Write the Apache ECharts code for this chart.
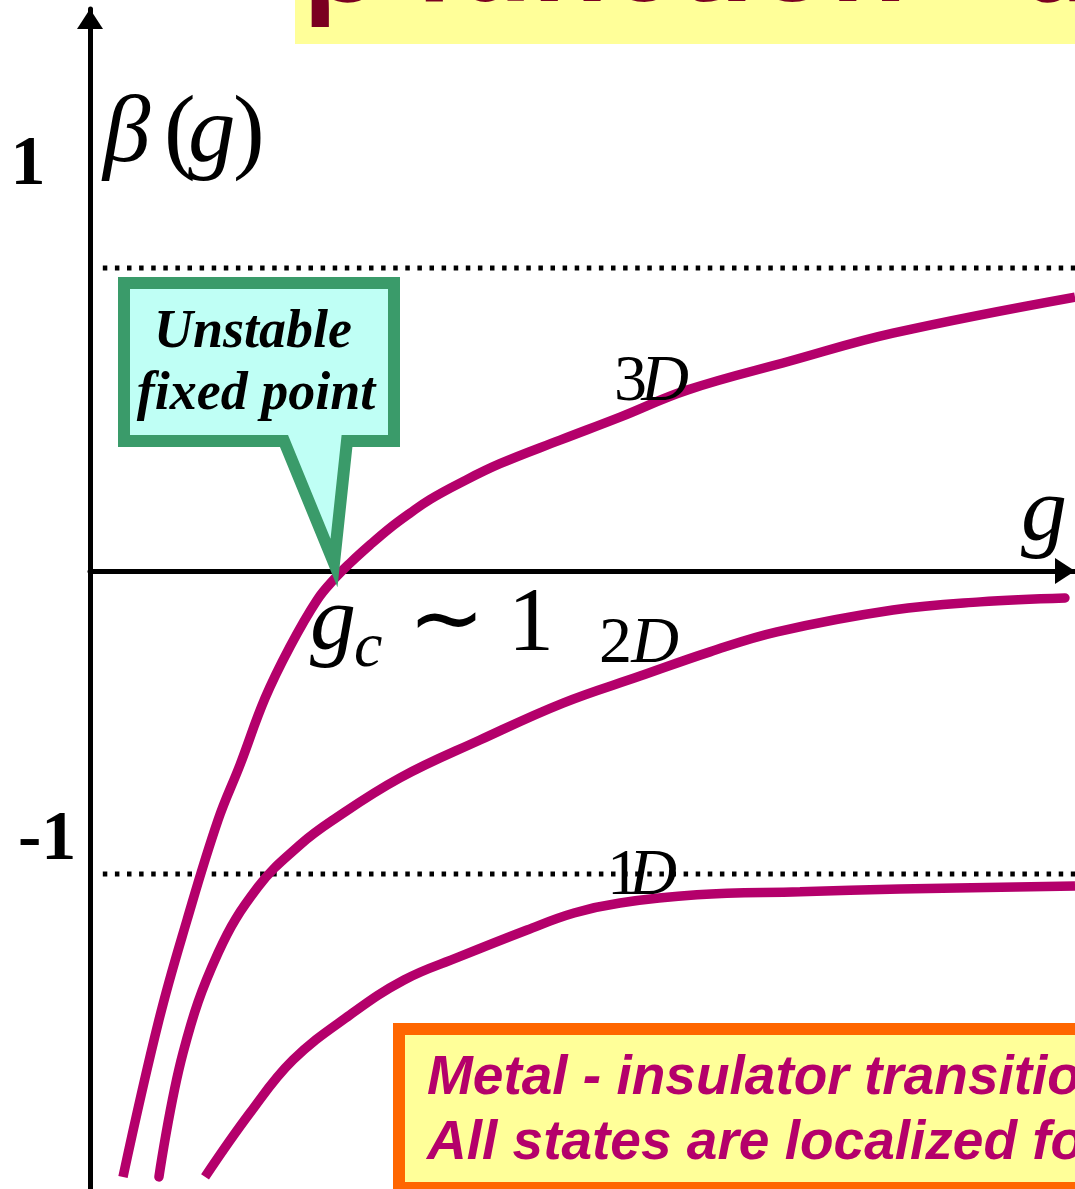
<!DOCTYPE html>
<html>
<head>
<meta charset="utf-8">
<script src="https://cdn.jsdelivr.net/npm/echarts@6/dist/echarts.min.js"></script>
<style>html,body{margin:0;padding:0;background:#fff;}#c{width:1075px;height:1189px;}</style>
</head>
<body>
<div id="c"></div>
<script>
// ---- data (g, beta) ----
var curve3D = [[0.335,-2.0],[0.70,-1.482],[0.985,-1.152],[1.30,-0.822],[1.523,-0.64],[1.777,-0.42],[2.03,-0.25],[2.305,-0.096],[2.49,-0.023],[2.64,0.026],[2.843,0.086],[3.046,0.142],[3.249,0.191],[3.452,0.236],[3.756,0.290],[4.162,0.354],[4.772,0.432],[5.381,0.508],[6.061,0.597],[7.107,0.693],[8.152,0.785],[10.0,0.904]];
var curve2D = [[0.70,-2.0],[0.944,-1.591],[1.30,-1.261],[1.706,-1.043],[2.132,-0.904],[2.467,-0.822],[3.147,-0.683],[3.959,-0.558],[4.802,-0.436],[5.584,-0.347],[6.294,-0.267],[6.975,-0.201],[8.152,-0.129],[9.036,-0.102],[9.898,-0.089]];
var curve1D = [[1.168,-2.0],[1.624,-1.789],[2.061,-1.614],[2.640,-1.465],[3.188,-1.350],[3.746,-1.274],[4.437,-1.185],[4.914,-1.129],[5.381,-1.096],[6.162,-1.069],[7.208,-1.059],[8.223,-1.050],[10.0,-1.040]];
var refLevels = [1, -1];
var tickLabels = ['1', '-1'];
var curveNames = ['3D', '2D', '1D'];

var MAG = '#b4006b';
var chart = echarts.init(document.getElementById('c'));

function T(text, x, base, size, o) {
  o = o || {};
  var fam = o.fam || '"Liberation Serif"';
  var font = (o.style || 'normal') + ' ' + (o.weight || 'normal') + ' ' + size + 'px ' + fam;
  return {
    type: 'text', x: x, y: base - (o.k || 0.34) * size, z: 120,
    style: { text: text, font: font, fill: o.fill || '#000',
      textAlign: o.align || 'left', align: o.align || 'left',
      textVerticalAlign: 'middle', verticalAlign: 'middle' }
  };
}

var series = [];
refLevels.forEach(function (v) {
  series.push({
    type: 'line', data: [[0.13, v], [10, v]], symbol: 'none', silent: true, z: 1,
    lineStyle: { color: '#000', width: 5, type: [4.5, 7.6], cap: 'butt' }, clip: false
  });
});
[curve3D, curve2D, curve1D].forEach(function (d, i) {
  series.push({
    type: 'line', name: curveNames[i], data: d, symbol: 'none', smooth: 0.4, clip: false, z: 3,
    lineStyle: { color: MAG, width: 9.5, cap: i === 1 ? 'round' : 'butt' }
  });
});

var graphics = [
  // title strip (cropped)
  { type: 'rect', shape: { x: 295, y: 0, width: 800, height: 44 }, style: { fill: '#ffff99' }, z: 100 },
  T('\u03b2 function - d \u2265 2', 303, 10, 125, { fam: '"Liberation Sans"', weight: 'bold', fill: '#7a0020', k: 0.35 }),
  // axis labels
  T('\u03b2', 103, 168, 95, { style: 'italic' }),
  T('(', 164, 168, 95, {}),
  T('g', 188, 168, 95, { style: 'italic' }),
  T(')', 233, 168, 95, {}),
  T('g', 1021, 547, 92, { style: 'italic' }),
  // tick labels
  T(tickLabels[0], 28, 190, 70, { weight: 'bold', align: 'center' }),
  T(tickLabels[1], 18, 865, 70, { weight: 'bold' }),
  // g_c ~ 1
  T('g', 310, 656, 92, { style: 'italic' }),
  T('c', 354, 671, 64, { style: 'italic' }),
  T('\u223c', 408, 656, 92, {}),
  T('1', 508, 657, 92, {}),
  // curve labels
  T('3', 614, 405, 66, {}), T('D', 689, 405, 66, { style: 'italic', align: 'right' }),
  T('2', 599, 667, 66, {}), T('D', 679, 667, 66, { style: 'italic', align: 'right' }),
  T('1', 607, 899, 66, {}), T('D', 677, 899, 66, { style: 'italic', align: 'right' }),
  // callout
  { type: 'polygon', z: 110, shape: { points: [[124,283],[394,283],[394,441],[347,441],[334,563],[284,441],[124,441]] },
    style: { fill: '#bffff5', stroke: '#3a9b6a', lineWidth: 12, lineJoin: 'miter', miterLimit: 10 } },
  T('Unstable', 253, 351, 54, { style: 'italic', weight: 'bold', align: 'center' }),
  T('fixed point', 256, 413, 54, { style: 'italic', weight: 'bold', align: 'center' }),
  // bottom box
  { type: 'rect', z: 110, shape: { x: 399, y: 1029, width: 720, height: 159 },
    style: { fill: '#ffff99', stroke: '#ff6600', lineWidth: 12 } },
  T('Metal - insulator transition for d > 2', 427, 1098, 55, { fam: '"Liberation Sans"', style: 'italic', weight: 'bold', fill: MAG, k: 0.35 }),
  T('All states are localized for d \u2264 2', 427, 1163, 55, { fam: '"Liberation Sans"', style: 'italic', weight: 'bold', fill: MAG, k: 0.35 })
];

chart.setOption({
  animation: false,
  backgroundColor: '#fff',
  grid: { left: 90, right: 0, top: 9, bottom: 0 },
  xAxis: {
    type: 'value', min: 0, max: 10,
    axisLine: { onZero: true, lineStyle: { color: '#000', width: 5 }, symbol: ['none', 'triangle'], symbolSize: [26, 20], symbolOffset: [0, -10] },
    axisTick: { show: false }, axisLabel: { show: false }, splitLine: { show: false }
  },
  yAxis: {
    type: 'value', min: -2.04, max: 1.855,
    axisLine: { show: true, onZero: false, lineStyle: { color: '#000', width: 5 }, symbol: ['none', 'triangle'], symbolSize: [26, 20], symbolOffset: [0, -10] },
    axisTick: { show: false }, axisLabel: { show: false }, splitLine: { show: false }
  },
  series: series,
  graphic: graphics
});
</script>
</body>
</html>
